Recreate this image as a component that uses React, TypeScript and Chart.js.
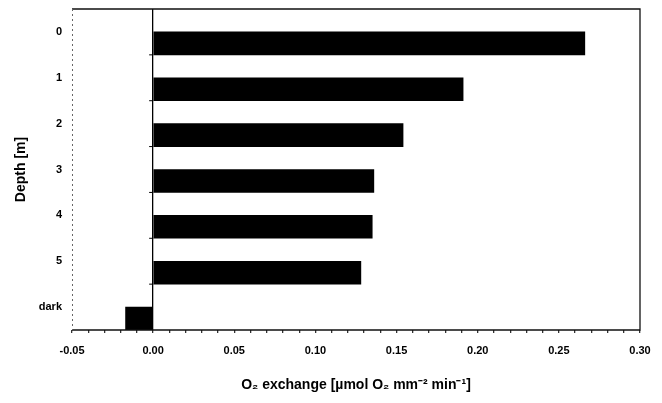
import React, { useEffect, useRef } from 'react';
import { Chart, registerables } from 'chart.js';

Chart.register(...registerables);

// ---- data ----
const categories: string[] = ['0', '1', '2', '3', '4', '5', 'dark'];
const exchange: number[] = [0.266, 0.191, 0.154, 0.136, 0.135, 0.128, -0.017];
const spacer: (number | null)[] = categories.map(() => null);
const xMin = -0.05;
const xMax = 0.3;
const minorStep = 0.01;
const labelStep = 0.05;
const xTitle = 'O\u2082 exchange [\u00B5mol O\u2082 mm\u207B\u00B2 min\u207B\u00B9]';
const yTitle = 'Depth [m]';

const FONT = "'Liberation Sans', Arial, Helvetica, sans-serif";

const framePlugin = {
  id: 'frame',
  afterDraw(chart: any) {
    const { ctx, chartArea: a, scales } = chart;
    ctx.save();
    ctx.strokeStyle = '#111';
    ctx.lineWidth = 1.3;
    ctx.beginPath();
    ctx.moveTo(a.left, a.top);
    ctx.lineTo(a.right, a.top);
    ctx.lineTo(a.right, a.bottom);
    ctx.lineTo(a.left, a.bottom);
    ctx.stroke();
    ctx.setLineDash([2, 3]);
    ctx.strokeStyle = '#666';
    ctx.lineWidth = 1;
    ctx.beginPath();
    ctx.moveTo(a.left + 0.5, a.top);
    ctx.lineTo(a.left + 0.5, a.bottom);
    ctx.stroke();
    ctx.setLineDash([]);
    const x0 = scales.x.getPixelForValue(0);
    const ys = scales.y;
    ctx.strokeStyle = '#000';
    ctx.lineWidth = 1;
    for (let i = 0; i < categories.length - 1; i++) {
      const b = (ys.getPixelForTick(i) + ys.getPixelForTick(i + 1)) / 2;
      ctx.beginPath();
      ctx.moveTo(x0 - 4, b);
      ctx.lineTo(x0, b);
      ctx.stroke();
    }
    ctx.restore();
  },
};

export default function App() {
  const ref = useRef<HTMLCanvasElement | null>(null);

  useEffect(() => {
    if (!ref.current) return;
    const chart = new Chart(ref.current, {
      type: 'bar',
      data: {
        labels: categories,
        datasets: [
          { label: 'spacer', data: spacer, backgroundColor: '#000' },
          { label: 'O2 exchange', data: exchange, backgroundColor: '#000', borderWidth: 0 },
        ],
      },
      options: {
        indexAxis: 'y',
        responsive: false,
        animation: false,
        devicePixelRatio: 1,
        datasets: { bar: { categoryPercentage: 1, barPercentage: 1 } },
        layout: { padding: { top: 9, right: 22, left: 0, bottom: 0 } },
        plugins: { legend: { display: false }, tooltip: { enabled: false } },
        scales: {
          x: {
            type: 'linear',
            min: xMin,
            max: xMax,
            afterFit: (s: any) => { s.height = 73; },
            border: { display: false },
            grid: {
              color: (c: any) => (c.tick && Math.abs(c.tick.value) < 1e-9 ? '#000' : 'rgba(0,0,0,0)'),
              lineWidth: 1.3,
              drawTicks: true,
              tickLength: 3,
              tickColor: '#333',
            },
            ticks: {
              stepSize: minorStep,
              autoSkip: false,
              maxRotation: 0,
              padding: 11,
              color: '#000',
              font: { family: FONT, size: 11, weight: 'bold' },
              callback: (v: any) => {
                const k = Number(v) / labelStep;
                return Math.abs(k - Math.round(k)) < 1e-6 ? Number(v).toFixed(2) : '';
              },
            },
            title: {
              display: true,
              text: xTitle,
              color: '#000',
              font: { family: FONT, size: 14, weight: 'bold' },
              padding: { top: 0, bottom: 9 },
            },
          },
          y: {
            type: 'category',
            afterFit: (s: any) => { s.width = 72; s.paddingTop = 0; s.paddingBottom = 0; },
            border: { display: false },
            grid: { display: false, drawTicks: false },
            ticks: {
              padding: 10,
              color: '#000',
              font: { family: FONT, size: 11, weight: 'bold' },
            },
            title: {
              display: true,
              text: yTitle,
              color: '#000',
              font: { family: FONT, size: 14, weight: 'bold' },
              padding: { top: 13, bottom: 0 },
            },
          },
        },
      } as any,
      plugins: [framePlugin],
    });
    return () => chart.destroy();
  }, []);

  return (
    <div style={{ position: 'absolute', left: 0, top: 0, width: 662, height: 403, background: '#fff' }}>
      <canvas ref={ref} width={662} height={403} />
    </div>
  );
}
